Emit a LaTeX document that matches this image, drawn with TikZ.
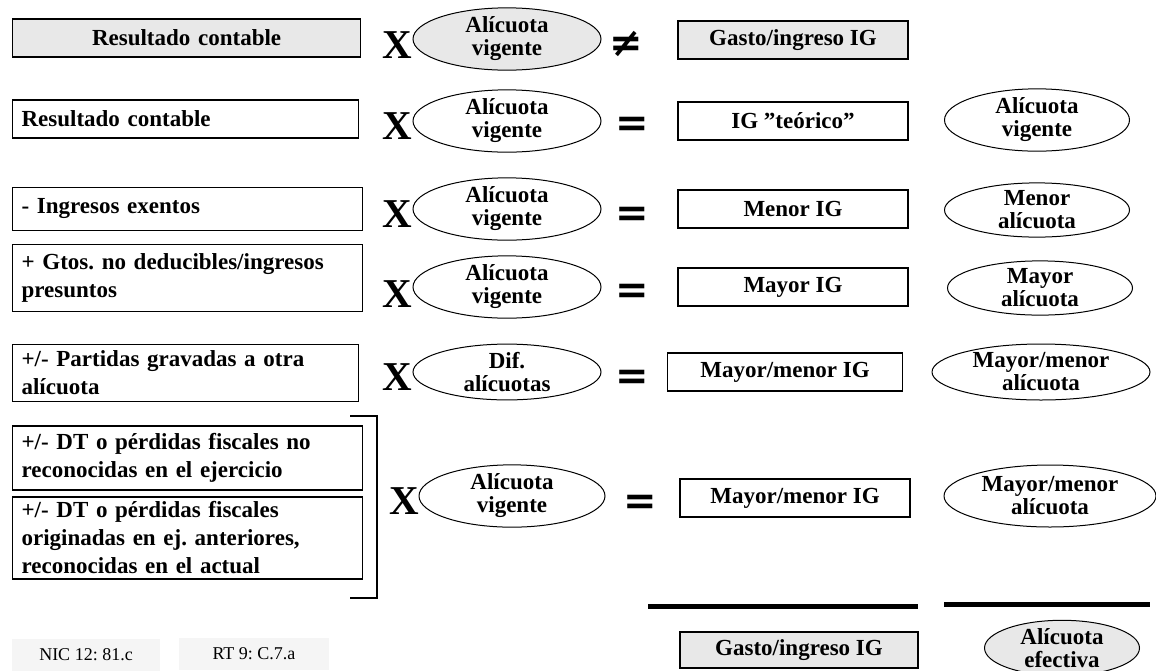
\documentclass[tikz,border=0pt]{standalone}
\usepackage{fontspec}
\setmainfont{Liberation Serif}
\newfontfamily\symfont{DejaVu Sans}
\usetikzlibrary{shapes.geometric}
\frenchspacing

\begin{document}
\begin{tikzpicture}[x=1pt,y=-1pt,
    box/.style={draw,line width=1.2pt,inner sep=0pt,minimum height=38pt,
        font=\bfseries\fontsize{23}{28}\selectfont},
    lbox/.style={box,align=left,inner xsep=9pt,anchor=west},
    rbox/.style={box,align=center,minimum width=230pt},
    oval/.style={ellipse,draw,line width=1pt,inner sep=0pt,align=center,
        minimum width=188pt,minimum height=54pt,
        font=\bfseries\fontsize{23}{23}\selectfont},
    shade/.style={fill=gray!18},
    times/.style={font=\bfseries\fontsize{41}{41}\selectfont},
    eqsign/.style={font=\symfont\bfseries\fontsize{40}{40}\selectfont},
    refbox/.style={fill=gray!8,inner sep=0pt,minimum width=148pt,minimum height=32pt,
        font=\fontsize{18}{20}\selectfont}]
    \useasboundingbox (0,0) rectangle (1156,670);
    \clip (0,0) rectangle (1156,670);

    % Resultado contable x alicuota vigente vs gasto
    \node[lbox,shade,align=center,text width=330pt] (res0) at (12,38) {Resultado contable};
    \node[times] (x0) at (397,45) {X};
    \node[oval,shade,minimum height=57pt] (al0) at (507,39) {Alícuota\\vigente};
    \node[eqsign] (ne0) at (626,44) {≠};
    \node[rbox,shade] (ig0) at (793,40) {Gasto/ingreso IG};

    % IG teorico
    \node[lbox,text width=328pt] (res1) at (12,119) {Resultado contable};
    \node[times] (x1) at (397,126) {X};
    \node[oval] (al1) at (507,121) {Alícuota\\vigente};
    \node[eqsign] (eq1) at (632,127) {=};
    \node[rbox] (ig1) at (793,121) {IG ”teórico”};
    \node[oval,minimum width=185pt] (ef1) at (1037,120) {Alícuota\\vigente};

    % Ingresos exentos
    \node[lbox,text width=332pt,minimum height=43pt] (res2) at (12,209) {- Ingresos exentos};
    \node[times] (x2) at (397,214) {X};
    \node[oval] (al2) at (507,209) {Alícuota\\vigente};
    \node[eqsign] (eq2) at (632,217) {=};
    \node[rbox] (ig2) at (793,209) {Menor IG};
    \node[oval,minimum width=185pt] (ef2) at (1037,210) {Menor\\alícuota};

    % Gastos no deducibles
    \node[lbox,text width=332pt,minimum height=67pt] (res3) at (12,278)
        {+ Gtos. no deducibles/ingresos\\presuntos};
    \node[times] (x3) at (397,294) {X};
    \node[oval] (al3) at (507,287) {Alícuota\\vigente};
    \node[eqsign] (eq3) at (632,294) {=};
    \node[rbox] (ig3) at (793,287) {Mayor IG};
    \node[oval,minimum width=185pt] (ef3) at (1040,288) {Mayor\\alícuota};

    % Partidas a otra alicuota
    \node[lbox,text width=328pt,minimum height=57pt] (res4) at (12,373)
        {+/- Partidas gravadas a otra\\alícuota};
    \node[times] (x4) at (397,377) {X};
    \node[oval] (al4) at (507,372) {Dif.\\alícuotas};
    \node[eqsign] (eq4) at (632,380) {=};
    \node[rbox,minimum width=235pt] (ig4) at (785,372) {Mayor/menor IG};
    \node[oval,minimum width=218pt,minimum height=56pt] (ef4) at (1041,372) {Mayor/menor\\alícuota};

    % Diferencias temporarias y quebrantos
    \node[lbox,text width=332pt,minimum height=64pt] (dt1) at (12,458)
        {+/- DT o pérdidas fiscales no\\reconocidas en el ejercicio};
    \node[lbox,text width=332pt,minimum height=82pt] (dt2) at (12,538)
        {+/- DT o pérdidas fiscales\\originadas en ej. anteriores,\\reconocidas en el actual};
    \draw[line width=2pt] (350,416) -- (377,416) -- (377,598) -- (350,598);
    \node[times] (x5) at (404,501) {X};
    \node[oval,minimum width=186pt,minimum height=62pt] (al5) at (512,496) {Alícuota\\vigente};
    \node[eqsign] (eq5) at (640,505) {=};
    \node[rbox] (ig5) at (795,498) {Mayor/menor IG};
    \node[oval,minimum width=212pt,minimum height=62pt] (ef5) at (1050,496) {Mayor/menor\\alícuota};

    % Total
    \draw[line width=5pt] (648,606) -- (918,606);
    \draw[line width=5pt] (944,604) -- (1150,604);
    \node[rbox,shade,minimum width=238pt,minimum height=36pt] (ig6) at (799,650) {Gasto/ingreso IG};
    \node[oval,shade,minimum width=155pt] (ef6) at (1062,648) {Alícuota\\efectiva};

    % Normas
    \node[refbox] (nic) at (86,655) {NIC 12: 81.c};
    \node[refbox,minimum width=150pt] (rt) at (254,654) {RT 9: C.7.a};
\end{tikzpicture}
\end{document}
